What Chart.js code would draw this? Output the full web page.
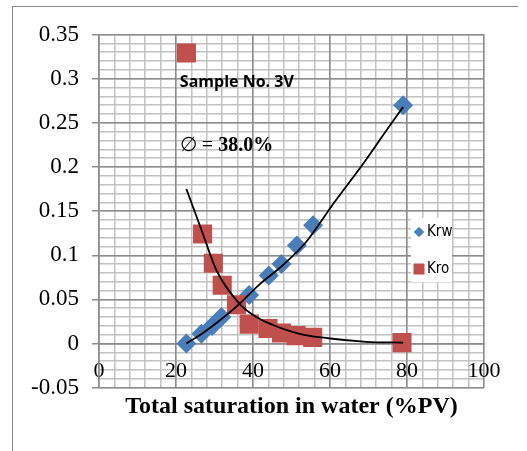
<!DOCTYPE html>
<html>
<head>
<meta charset="utf-8">
<script src="https://cdn.jsdelivr.net/npm/chart.js@4.4.1/dist/chart.umd.min.js"></script>
<style>
  html, body { margin: 0; padding: 0; background: #fff; }
  #wrap { position: relative; width: 527px; height: 451px; overflow: hidden; }
  #frame { position: absolute; left: 12px; top: 6px; width: 505px; height: 470px;
           border-top: 1.5px solid #8c8c8c; border-left: 1.5px solid #8c8c8c; }
  canvas { position: absolute; left: 0; top: 0; }
</style>
</head>
<body>
<div id="wrap">
  <div id="frame"></div>
  <canvas id="chart" width="527" height="451"></canvas>
</div>
<script>
// measured points (water saturation %PV, relative permeability)
const krwX = [22.7, 26.6, 29.4, 31.8, 39.0, 44.1, 47.4, 51.4, 55.6, 79.0];
const krwY = [0.000, 0.011, 0.020, 0.030, 0.055, 0.077, 0.090, 0.111, 0.134, 0.270];

const kroX = [22.7, 26.9, 29.7, 32.0, 35.7, 39.0, 43.9, 47.4, 51.2, 55.5, 78.7];
const kroY = [0.329, 0.124, 0.091, 0.066, 0.044, 0.022, 0.017, 0.012, 0.009, 0.007, 0.001];

// trend curves
const krwFitX = [22.7, 27.0, 31.0, 36.5, 41.7, 47.8, 53.8, 57.3, 60.8, 68.0, 74.6, 79.0];
const krwFitY = [0.000, 0.012, 0.025, 0.045, 0.067, 0.089, 0.115, 0.136, 0.158, 0.200, 0.241, 0.268];

const kroFitX = [22.7, 27.0, 30.5, 36.5, 40.9, 45.2, 52.1, 59.5, 69.4, 79.0];
const kroFitY = [0.175, 0.124, 0.083, 0.045, 0.030, 0.021, 0.011, 0.006, 0.002, 0.001];

const seriesNames = ["Krw", "Kro"];
const xTitle = "Total saturation in water (%PV)";
const sampleLabel = "Sample No. 3V";
const porosityLabel = ["\u2205 = ", "38.0%"];

const blue = "#4a7ebb";
const red = "#c0504d";
const majorGrid = "#8c8c8c";
const minorGrid = "#c2c2c2";

function pts(xs, ys) {
  return xs.map((x, i) => ({ x, y: ys[i] }));
}

const notes = {
  id: "notes",
  afterDraw(chart) {
    const { ctx, scales: { x, y } } = chart;
    ctx.save();
    ctx.fillStyle = "#000";
    ctx.textBaseline = "alphabetic";
    ctx.textAlign = "left";

    ctx.font = 'bold 16px "Open Sans"';
    ctx.fillText(sampleLabel, x.getPixelForValue(21), y.getPixelForValue(0.29));

    const px = x.getPixelForValue(21);
    const py = y.getPixelForValue(0.218);
    ctx.font = '20px "Liberation Serif"';
    ctx.fillText(porosityLabel[0], px, py);
    const w = ctx.measureText(porosityLabel[0]).width;
    ctx.font = 'bold 20px "Liberation Serif"';
    ctx.fillText(porosityLabel[1], px + w, py);

    // legend box inside the plot
    ctx.fillStyle = "#fff";
    ctx.fillRect(411, 218, 41, 64);
    const rows = [232, 269];
    seriesNames.forEach((name, i) => {
      const d = chart.data.datasets.find(ds => ds.label === name);
      ctx.fillStyle = d.backgroundColor;
      Chart.helpers.drawPoint(ctx, {
        pointStyle: d.pointStyle,
        radius: d.pointStyle === "rect" ? 7.5 : 5,
        rotation: 0,
        borderWidth: 0
      }, 419, rows[i]);
      ctx.fill();
      ctx.fillStyle = "#000";
      ctx.textBaseline = "middle";
      ctx.font = '15px "Liberation Sans Narrow", "DejaVu Sans Condensed", sans-serif';
      ctx.fillText(d.label, 427, rows[i]);
    });
    ctx.restore();
  }
};

new Chart(document.getElementById("chart"), {
  type: "scatter",
  data: {
    datasets: [
      {
        label: "Krw fit",
        type: "line",
        data: pts(krwFitX, krwFitY),
        xAxisID: "x", yAxisID: "y",
        borderColor: "#000",
        borderWidth: 1.8,
        pointRadius: 0,
        cubicInterpolationMode: "monotone",
        fill: false,
        order: 0
      },
      {
        label: "Kro fit",
        type: "line",
        data: pts(kroFitX, kroFitY),
        xAxisID: "x", yAxisID: "y",
        borderColor: "#000",
        borderWidth: 1.8,
        pointRadius: 0,
        cubicInterpolationMode: "monotone",
        fill: false,
        order: 0
      },
      {
        label: seriesNames[1],
        data: pts(kroX, kroY),
        xAxisID: "x", yAxisID: "y",
        pointStyle: "rect",
        pointRadius: 13.5,
        backgroundColor: red,
        borderWidth: 0,
        order: 1
      },
      {
        label: seriesNames[0],
        data: pts(krwX, krwY),
        xAxisID: "x", yAxisID: "y",
        pointStyle: "rectRot",
        pointRadius: 10,
        backgroundColor: blue,
        borderWidth: 0,
        order: 2
      }
    ]
  },
  options: {
    responsive: false,
    animation: false,
    devicePixelRatio: 1,
    layout: { padding: { left: 0, right: 43, top: 34.5, bottom: 0 } },
    plugins: {
      legend: { display: false },
      tooltip: { enabled: false },
      title: {
        display: true,
        text: xTitle,
        position: "bottom",
        fullSize: false,
        color: "#000",
        font: { family: "Liberation Serif", size: 24, weight: "bold", lineHeight: 1.2 },
        padding: { top: 5, bottom: 29.5 }
      }
    },
    scales: {
      xMinor: {
        type: "linear", axis: "x", position: "bottom", min: 0, max: 100, z: -1,
        ticks: { display: false, stepSize: 4 },
        grid: { color: minorGrid, lineWidth: 1.5, drawTicks: false },
        border: { display: false },
        afterFit: s => { s.height = 0; }
      },
      yMinor: {
        type: "linear", axis: "y", position: "right", min: -0.05, max: 0.35, z: -1,
        ticks: { display: false, stepSize: 0.01 },
        grid: { color: minorGrid, lineWidth: 1.5, drawTicks: false },
        border: { display: false },
        afterFit: s => { s.width = 0; }
      },
      x: {
        type: "linear", position: { y: 0 }, min: 0, max: 100,
        ticks: { stepSize: 20, padding: 14, color: "#000", font: { family: "Liberation Serif", size: 22 } },
        grid: { color: majorGrid, lineWidth: 1.5, drawTicks: false },
        border: { color: majorGrid, width: 1.5 }
      },
      y: {
        type: "linear", position: "left", min: -0.05, max: 0.35,
        ticks: {
          stepSize: 0.05, padding: 13, color: "#000",
          font: { family: "Liberation Serif", size: 23 },
          callback: v => String(+v.toFixed(2))
        },
        grid: { color: majorGrid, lineWidth: 1.5, tickLength: 7 },
        border: { color: majorGrid, width: 1.5 },
        afterFit: s => { s.width = 99; }
      }
    }
  },
  plugins: [notes]
});
</script>
</body>
</html>
